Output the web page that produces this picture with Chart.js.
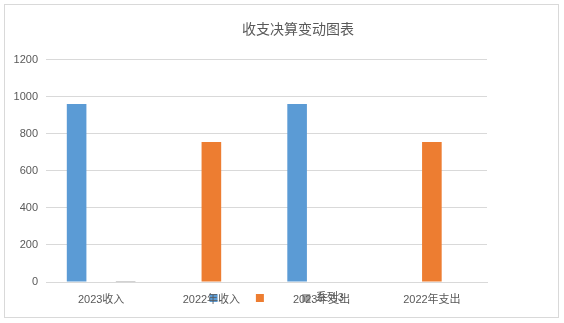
<!DOCTYPE html>
<html>
<head>
<meta charset="utf-8">
<script src="https://cdn.jsdelivr.net/npm/chart.js@4.4.1/dist/chart.umd.min.js"></script>
<style>
  html, body { margin: 0; padding: 0; background: #fff; }
  .marco {
    position: absolute;
    left: 4px;
    top: 4px;
    width: 553px;
    height: 312px;
    border: 1px solid #d9d9d9;
  }
  canvas { display: block; }
</style>
</head>
<body>
<div class="marco"><canvas id="grafico" width="553" height="312"></canvas></div>
<script>
const categorias = ['2023收入', '2022年收入', '2023年支出', '2022年支出'];
const serie1 = [960, 0, 960, 0];
const serie2 = [0, 755, 0, 755];
const serie3 = [5, 0, 0, 0];
const nombresSeries = ['', '', '系列3'];
const coloresSeries = ['#5b9bd5', '#ed7d31', '#a5a5a5'];
const ticksY = [0, 200, 400, 600, 800, 1000, 1200];

const fuenteTexto = "'Liberation Sans', 'Noto Sans CJK SC', sans-serif";
const grisTexto = '#595959';
const grisLinea = '#d9d9d9';

// Excel pone el titulo algo a la derecha y la leyenda encima de las etiquetas X
const ajusteCajas = {
  id: 'ajusteCajas',
  afterLayout(chart) {
    const t = chart.titleBlock;
    if (t) {
      const dx = chart.width / 2 + 16.5 - (t.left + t.right) / 2;
      t.left += dx;
      t.right += dx;
    }
    const lg = chart.legend;
    if (lg) {
      const p = lg.options.labels.padding;
      const dx = chart.width / 2 - (lg.left + lg.right) / 2 - 4.8;
      lg.left += dx;
      lg.right += dx;
      lg.top = chart.chartArea.bottom + 10.5 - p;
      lg.bottom = chart.height;
    }
  }
};

const series = [serie1, serie2, serie3];

new Chart(document.getElementById('grafico'), {
  type: 'bar',
  data: {
    labels: categorias,
    datasets: series.map((valores, i) => ({
      label: nombresSeries[i],
      data: valores,
      backgroundColor: coloresSeries[i],
      borderWidth: 0
    }))
  },
  options: {
    responsive: false,
    animation: false,
    categoryPercentage: 0.667,
    barPercentage: 0.8,
    layout: { padding: { left: 0, right: 71, top: 0, bottom: 0 } },
    plugins: {
      title: {
        display: true,
        text: '收支决算变动图表',
        color: grisTexto,
        font: { family: "'Noto Sans CJK SC', sans-serif", size: 14, weight: 'normal' },
        padding: { top: 15.6, bottom: 22.1 }
      },
      legend: {
        position: 'bottom',
        maxHeight: 7,
        labels: {
          boxWidth: 8,
          boxHeight: 8,
          padding: 32.8,
          color: grisTexto,
          font: { family: fuenteTexto, size: 11 }
        }
      },
      tooltip: { enabled: false }
    },
    scales: {
      x: {
        grid: { display: false, drawTicks: false },
        border: { display: true, color: grisLinea },
        ticks: {
          color: grisTexto,
          padding: 11,
          font: { family: fuenteTexto, size: 11 }
        },
        afterFit(scale) { scale.height = 28; }
      },
      y: {
        min: 0,
        max: 1200,
        grid: { color: grisLinea, drawTicks: false },
        border: { display: false },
        ticks: {
          color: grisTexto,
          padding: 8,
          font: { family: fuenteTexto, size: 11 },
          callback: v => String(v)
        },
        afterBuildTicks(scale) {
          scale.ticks = ticksY.map(v => ({ value: v }));
        },
        afterFit(scale) { scale.width = 41; }
      }
    }
  },
  plugins: [ajusteCajas]
});
</script>
</body>
</html>
